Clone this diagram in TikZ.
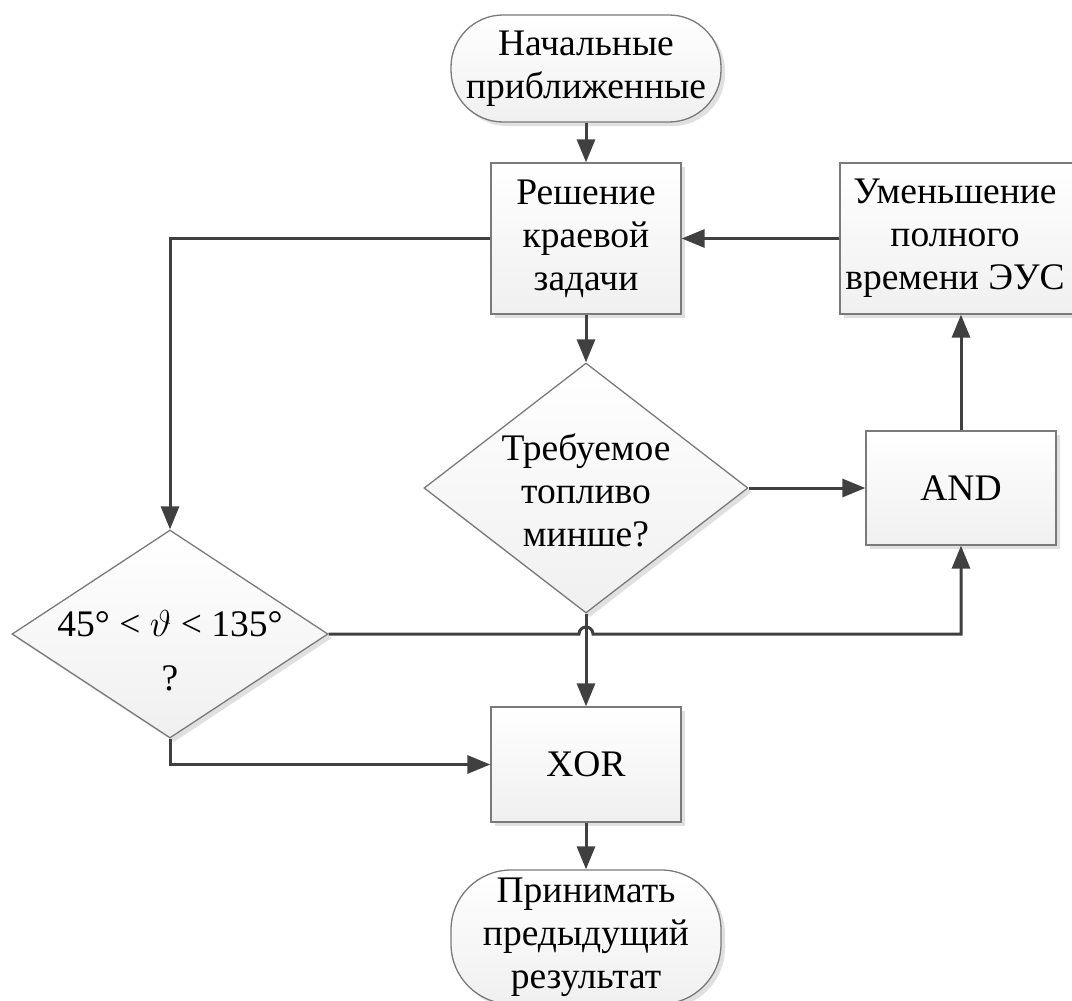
\documentclass[tikz,border=0pt]{standalone}
\usepackage{fix-cm}
\usepackage{fontspec}
\setmainfont{Liberation Serif}
\usetikzlibrary{shapes.geometric,arrows.meta,shadows,calc}

\definecolor{linec}{HTML}{404040}
\definecolor{edgec}{HTML}{7A7A7A}

\begin{document}
\begin{tikzpicture}[x=1pt,y=-1pt,
  txt/.style={font=\fontsize{37.5}{43}\selectfont, align=center, inner sep=0pt},
  base/.style={txt, draw=edgec, line width=1.3pt, top color=white, bottom color=black!6,
    drop shadow={shadow xshift=4pt, shadow yshift=-4pt, fill=black!12, opacity=1}},
  procbox/.style={base, rectangle, minimum width=190pt, minimum height=151pt},
  termbox/.style={base, rectangle, rounded corners=52pt, minimum width=270pt, minimum height=107pt},
  decision/.style={base, diamond, inner sep=0pt},
  conn/.style={draw=linec, line width=3pt},
  arr/.style={conn, -{Triangle[length=23pt,width=18pt]}}
]
\useasboundingbox (0,0) rectangle (1072,1001);

% blocks
\node[termbox] (start) at (586,68.5) {Начальные\\приближенные};
\node[procbox] (solve) at (586,238.5) {Решение\\краевой\\задачи};
\node[procbox, minimum width=242pt] (reduce) at (961,238.5) {\hspace*{-12pt}Уменьшение\\\hspace*{-12pt}полного\\\hspace*{-12pt}времени ЭУС};
\node[decision, minimum width=324pt, minimum height=250pt] (fuel) at (586,488) {};
\node[txt] (fueltxt) at (586,490) {Требуемое\\топливо\\минше?};
\node[procbox, minimum height=114pt] (and) at (961,488) {AND};
\node[decision, minimum width=316pt, minimum height=208pt] (angle) at (170,634) {};
\node[txt] (angletxt) at (170,651) {45°~<~$\vartheta$~<~135°\\[11pt]?};
\node[procbox, minimum height=115pt] (xor) at (586,764.5) {XOR};
\node[termbox, minimum height=134pt, rounded corners=60pt] (stop) at (586,937) {Принимать\\предыдущий\\результат};

% connectors
\draw[arr] (start) -- (solve);
\draw[arr] (reduce.west) -- (solve.east);
\draw[arr] (solve) -- (fuel);
\draw[arr] (fuel.east) -- (and.west);
\draw[arr] (and) -- (reduce);
\draw[arr] (solve.west) -| (angle.north);
\coordinate (hop) at ($(fuel.south |- angle.east)+(-7,0)$);
\draw[arr] (angle.east) -- (hop) arc[start angle=180, end angle=0, radius=7pt]
  -- (and.south |- angle.east) -- (and.south);
\draw[arr] (fuel.south) -- (xor.north);
\draw[arr] (angle.south) |- (xor.west);
\draw[arr] (xor) -- (stop);
\end{tikzpicture}
\end{document}
